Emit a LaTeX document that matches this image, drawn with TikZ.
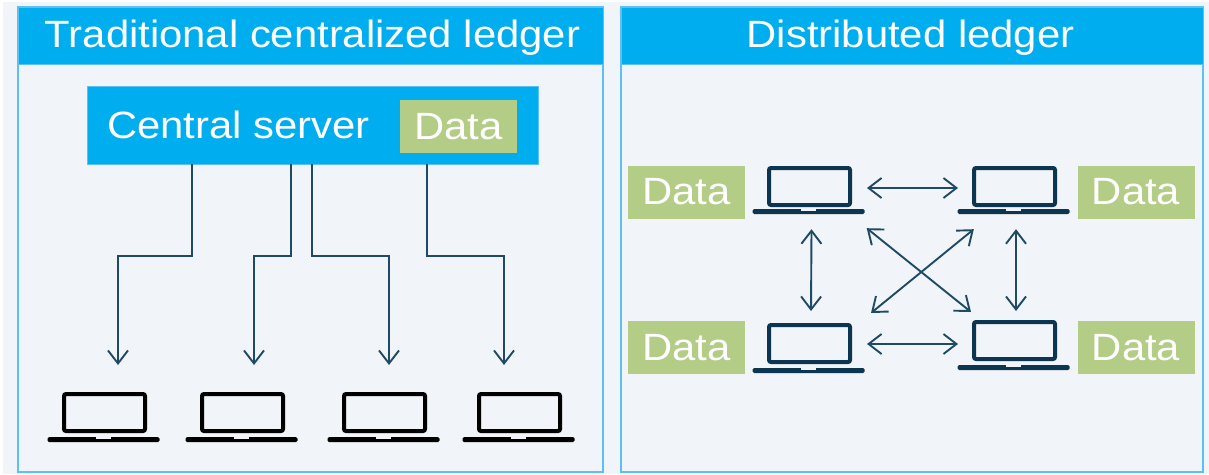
\documentclass[tikz,border=0pt]{standalone}
\usepackage{fontspec}
\setmainfont[FakeStretch=1.1]{Liberation Sans}
\usetikzlibrary{arrows.meta}
\definecolor{paneBack}{HTML}{F1F4F8}
\definecolor{skyHead}{HTML}{00AEEF}
\definecolor{skyLine}{HTML}{5CC0F2}
\definecolor{dataGreen}{HTML}{B3CD87}
\definecolor{linkBlue}{HTML}{1F4A63}
\definecolor{lapBlue}{HTML}{0B3550}
\newcommand*{\laptopIcon}[5]{% #1 = name, #2 = screen centre x, #3 = screen top y, #4 = colour, #5 = base offset
   \node[screen, draw=#4] (#1) at (#2,#3+20.5) {};
   \node[lapbase, fill=#4] (#1base) at (#2-1,#3+#5) {};
   \node[lapnotch] (#1notch) at (#2-1.5,#3+#5-1.5) {};
}

\begin{document}
\begin{tikzpicture}[
		x=1pt,
		y=-1pt,
		font=\fontsize{38}{42}\selectfont,
		text=white
	]
		\tikzstyle{pane}=[
			draw=skyLine,
			line width=1.5pt,
			fill=paneBack,
			inner sep=0pt
		]
		\tikzstyle{head}=[
			fill=skyHead,
			draw=skyLine,
			line width=0.8pt,
			inner sep=0pt
		]
		\tikzstyle{datum}=[
			fill=dataGreen,
			minimum width=117pt,
			minimum height=53pt,
			inner sep=0pt
		]
		\tikzstyle{screen}=[
			rounded corners=2pt,
			line width=4pt,
			minimum width=81pt,
			minimum height=37pt,
			inner sep=0pt
		]
		\tikzstyle{lapbase}=[
			rounded corners=1.5pt,
			minimum width=112pt,
			minimum height=5pt,
			inner sep=0pt
		]
		\tikzstyle{lapnotch}=[
			fill=paneBack,
			minimum width=15pt,
			minimum height=2pt,
			inner sep=0pt
		]
		\tikzstyle{link}=[
			draw=linkBlue,
			line width=1.9pt,
			-{Straight Barb[length=13pt,width=20pt,line width=1.9pt]}
		]
		\tikzstyle{duplex}=[
			draw=linkBlue,
			line width=1.9pt,
			{Straight Barb[length=13pt,width=20pt,line width=1.9pt]}-{Straight Barb[length=13pt,width=20pt,line width=1.9pt]}
		]

		\useasboundingbox (0,0) rectangle (1209,474);
		\fill[fill=paneBack] (3,2) rectangle (1209,474);

		\node[pane, minimum width=585pt, minimum height=465pt] (paneLeft) at (310.5,239.5) {};
		\node[pane, minimum width=582pt, minimum height=465pt] (paneRight) at (912,239.5) {};
		\node[head, minimum width=585pt, minimum height=57pt] (headLeft) at (310.5,35.5) {};
		\node[head, minimum width=582pt, minimum height=57pt] (headRight) at (912,35.5) {};
		\node (titleLeft) at (312.5,38) {Traditional centralized ledger};
		\node (titleRight) at (910.5,38) {Distributed ledger};

		\node[head, minimum width=451pt, minimum height=78pt] (server) at (312.5,125) {};
		\node[anchor=west, inner sep=0pt] (serverText) at (107,125) {Central server};
		\node[datum] (serverData) at (458.5,126.5) {Data};

		% left side
		\laptopIcon{lapA}{104.5}{392}{black}{47.5}
		\laptopIcon{lapB}{242.5}{392}{black}{47.5}
		\laptopIcon{lapC}{384.5}{392}{black}{47.5}
		\laptopIcon{lapD}{519.5}{392}{black}{47.5}
		\foreach \name/\sx/\ex in {A/192/118,B/291/254,C/312/389,D/427/504}{
			\coordinate (start\name) at (\sx,164);
			\coordinate (end\name) at (\ex,365);
			\draw[link] (start\name) -- ++(0,92) -| (end\name);
		}

		% right side
		\laptopIcon{lapTL}{809.5}{166}{lapBlue}{45.5}
		\laptopIcon{lapTR}{1014.5}{166}{lapBlue}{45.5}
		\laptopIcon{lapBL}{809.5}{323}{lapBlue}{47.5}
		\laptopIcon{lapBR}{1014.5}{320}{lapBlue}{47.5}
		\node[datum] (dataTL) at (686.5,192) {Data};
		\node[datum] (dataTR) at (1136,192) {Data};
		\node[datum] (dataBL) at (686.5,347.5) {Data};
		\node[datum] (dataBR) at (1136,347.5) {Data};

		\draw[duplex] ([shift={(15,1.5)}]lapTL.east) -- ([shift={(-14,1.5)}]lapTR.west);
		\draw[duplex] ([shift={(15,0.5)}]lapBL.east) -- ([shift={(-14,3.5)}]lapBR.west);
		\draw[duplex] ([shift={(3,15)}]lapTLbase.south) -- ([shift={(1.5,-12)}]lapBL.north);
		\draw[duplex] ([shift={(2.5,15)}]lapTRbase.south) -- ([shift={(1.5,-9)}]lapBR.north);
		\draw[duplex] ([shift={(2,14)}]lapTLbase.south east) -- ([shift={(-1,-8)}]lapBR.north west);
		\draw[duplex] ([shift={(19,-10)}]lapBL.north east) -- ([shift={(16.5,15)}]lapTRbase.south west);
	\end{tikzpicture}
\end{document}
